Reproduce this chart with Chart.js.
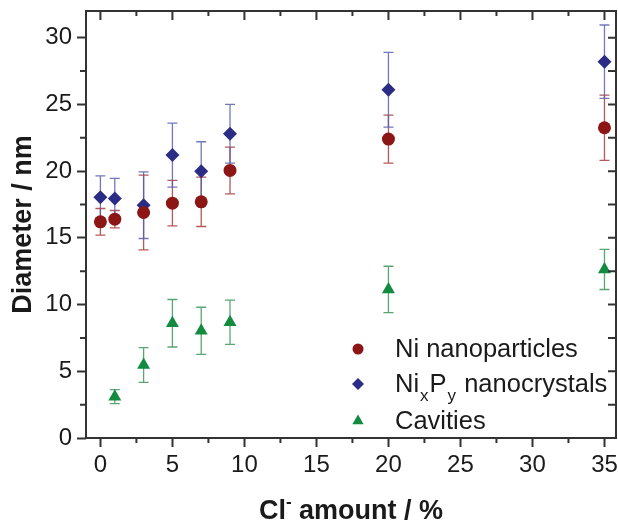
<!DOCTYPE html>
<html>
<head>
<meta charset="utf-8">
<script src="https://cdn.jsdelivr.net/npm/chart.js@4"></script>
<style>
    html, body { margin: 0; padding: 0; background: #ffffff; overflow: hidden; }
    #chart-box { width: 618px; height: 523px; }
    canvas { display: block; }
</style>
</head>
<body>
<div id="chart-box"><canvas id="chart"></canvas></div>
<script>
// DATA

const clAmount = [0, 1, 3, 5, 7, 9, 20, 35];
const cavityAmount = [1, 3, 5, 7, 9, 20, 35];

const niDiameter = [16.2, 16.4, 16.9, 17.6, 17.7, 20.05, 22.4, 23.25];
const niError = [1.0, 0.65, 2.8, 1.7, 1.85, 1.75, 1.8, 2.45];

const nixpyDiameter = [18.05, 17.95, 17.45, 21.2, 20.0, 22.8, 26.1, 28.2];
const nixpyError = [1.6, 1.5, 2.5, 2.4, 2.2, 2.2, 2.8, 2.75];

const cavityDiameter = [3.1, 5.47, 8.6, 8.03, 8.67, 11.13, 12.63];
const cavityError = [0.52, 1.3, 1.78, 1.77, 1.66, 1.74, 1.5];

// legend entries, split into [text, "sub"] parts for the subscripts
const legendLabels = [
    [["Ni nanoparticles", ""]],
    [["Ni", ""], ["x", "sub"], ["P", ""], ["y", "sub"], [" nanocrystals", ""]],
    [["Cavities", ""]],
];

// STYLE

const FONT = "'Liberation Sans', Arial, sans-serif";
const AXIS_COLOR = "#333333";
const TEXT_COLOR = "#1a1a1a";

const seriesStyle = [
    { color: "#8c1616", errColor: "rgba(170, 60, 60, 0.85)", shape: "circle", radius: 6.5, legendRadius: 5.5 },
    { color: "#2b2c86", errColor: "rgba(90, 95, 175, 0.85)", shape: "rectRot", radius: 7, legendRadius: 6 },
    { color: "#128a3f", errColor: "rgba(60, 150, 90, 0.85)", shape: "triangle", radius: 7.5, legendRadius: 6.5 },
];

function toPoints(xs, ys) {
    return xs.map((x, i) => ({ x: x, y: ys[i] }));
}

const errorSets = [niError, nixpyError, cavityError];

// PLUGINS

const errorBarPlugin = {
    id: "errorBars",
    beforeDatasetsDraw(chart) {
        const ctx = chart.ctx;
        const xScale = chart.scales.x;
        const yScale = chart.scales.y;
        ctx.save();
        chart.data.datasets.forEach((ds, dsIndex) => {
            const errs = errorSets[dsIndex];
            ctx.strokeStyle = seriesStyle[dsIndex].errColor;
            ctx.lineWidth = 1.3;
            ds.data.forEach((p, i) => {
                const px = xScale.getPixelForValue(p.x);
                const top = yScale.getPixelForValue(p.y + errs[i]);
                const bottom = yScale.getPixelForValue(p.y - errs[i]);
                ctx.beginPath();
                ctx.moveTo(px, top);
                ctx.lineTo(px, bottom);
                ctx.moveTo(px - 5, top);
                ctx.lineTo(px + 5, top);
                ctx.moveTo(px - 5, bottom);
                ctx.lineTo(px + 5, bottom);
                ctx.stroke();
            });
        });
        ctx.restore();
    }
};

function drawMarker(ctx, shape, x, y, r) {
    if (shape === "circle") {
        ctx.arc(x, y, r, 0, Math.PI * 2);
    } else if (shape === "rectRot") {
        ctx.moveTo(x, y - r);
        ctx.lineTo(x + r, y);
        ctx.lineTo(x, y + r);
        ctx.lineTo(x - r, y);
        ctx.closePath();
    } else {
        ctx.moveTo(x, y - r);
        ctx.lineTo(x + r * 0.866, y + r * 0.5);
        ctx.lineTo(x - r * 0.866, y + r * 0.5);
        ctx.closePath();
    }
}

const framePlugin = {
    id: "frame",
    afterDraw(chart) {
        const ctx = chart.ctx;
        const area = chart.chartArea;
        const xScale = chart.scales.x;
        const yScale = chart.scales.y;
        ctx.save();
        ctx.strokeStyle = AXIS_COLOR;
        ctx.lineWidth = 2;

        // minor + mirrored ticks
        ctx.beginPath();
        for (let v = 0; v <= 35; v += 2.5) {
            const px = xScale.getPixelForValue(v);
            const major = v % 5 === 0;
            const len = major ? 9 : 5;
            if (!major) {
                ctx.moveTo(px, area.bottom);
                ctx.lineTo(px, area.bottom + len);
            }
            ctx.moveTo(px, area.top);
            ctx.lineTo(px, area.top + len);
        }
        for (let v = 0; v <= 30; v += 2.5) {
            const py = yScale.getPixelForValue(v);
            const major = v % 5 === 0;
            const len = major ? 9 : 6;
            if (!major) {
                ctx.moveTo(area.left, py);
                ctx.lineTo(area.left - len, py);
            }
            ctx.moveTo(area.right, py);
            ctx.lineTo(area.right - 8, py);
        }
        ctx.stroke();

        ctx.strokeRect(area.left, area.top, area.right - area.left, area.bottom - area.top);

        // x axis title with superscript minus
        ctx.fillStyle = TEXT_COLOR;
        ctx.textBaseline = "alphabetic";
        const big = "bold 27px " + FONT;
        const small = "bold 17px " + FONT;
        ctx.font = big;
        const w1 = ctx.measureText("Cl").width;
        const w3 = ctx.measureText(" amount / %").width;
        ctx.font = small;
        const w2 = ctx.measureText("-").width;
        const total = w1 + w2 + w3;
        let x = (area.left + area.right) / 2 - total / 2;
        const baseY = 519;
        ctx.textAlign = "left";
        ctx.font = big;
        ctx.fillText("Cl", x, baseY);
        x += w1;
        ctx.font = small;
        ctx.fillText("-", x, baseY - 12);
        x += w2;
        ctx.font = big;
        ctx.fillText(" amount / %", x, baseY);

        // legend
        const legendX = 358;
        const textX = 395;
        const rowBase = [357, 392, 429];
        legendLabels.forEach((parts, i) => {
            const st = seriesStyle[i];
            ctx.fillStyle = st.color;
            ctx.beginPath();
            drawMarker(ctx, st.shape, legendX, rowBase[i] - 8, st.legendRadius);
            ctx.fill();

            ctx.fillStyle = TEXT_COLOR;
            let tx = textX;
            parts.forEach(([text, kind]) => {
                if (kind === "sub") {
                    ctx.font = "17px " + FONT;
                    ctx.fillText(text, tx + 1, rowBase[i] + 9);
                    tx += ctx.measureText(text).width + 2;
                } else {
                    ctx.font = "25.5px " + FONT;
                    ctx.fillText(text, tx, rowBase[i]);
                    tx += ctx.measureText(text).width;
                }
            });
        });
        ctx.restore();
    }
};

function noEdgePadding(scale) {
    scale.paddingTop = 0;
    scale.paddingBottom = 0;
    scale.paddingLeft = 0;
    scale.paddingRight = 0;
}

// CHART

const chart = new Chart(document.getElementById("chart"), {
    type: "scatter",
    data: {
        datasets: [
            { label: "Ni nanoparticles", data: toPoints(clAmount, niDiameter) },
            { label: "NixPy nanocrystals", data: toPoints(clAmount, nixpyDiameter) },
            { label: "Cavities", data: toPoints(cavityAmount, cavityDiameter) },
        ].map((ds, i) => Object.assign(ds, {
            pointStyle: seriesStyle[i].shape,
            pointRadius: seriesStyle[i].radius,
            pointHoverRadius: seriesStyle[i].radius,
            backgroundColor: seriesStyle[i].color,
            borderColor: seriesStyle[i].color,
            borderWidth: 0,
        }))
    },
    options: {
        responsive: true,
        maintainAspectRatio: false,
        animation: false,
        events: [],
        layout: {
            autoPadding: false, // don't add room for point radius
            padding: { top: 11, right: 2, left: 0, bottom: 0 },
        },
        scales: {
            x: {
                type: "linear",
                min: -1,
                max: 35.8,
                afterFit: scale => { scale.height = 85; noEdgePadding(scale); },
                grid: {
                    display: true,
                    drawOnChartArea: false,
                    drawTicks: true,
                    tickLength: 9,
                    tickWidth: 2,
                    tickColor: AXIS_COLOR,
                },
                border: { display: false },
                ticks: {
                    stepSize: 5,
                    includeBounds: false,
                    padding: 4,
                    color: TEXT_COLOR,
                    font: { family: FONT, size: 24 },
                    maxRotation: 0,
                },
            },
            y: {
                min: 0,
                max: 32,
                afterFit: scale => { scale.width = 86; noEdgePadding(scale); },
                grid: {
                    display: true,
                    drawOnChartArea: false,
                    drawTicks: true,
                    tickLength: 9,
                    tickWidth: 2,
                    tickColor: AXIS_COLOR,
                },
                border: { display: false },
                ticks: {
                    stepSize: 5,
                    includeBounds: false,
                    padding: 5,
                    color: TEXT_COLOR,
                    font: { family: FONT, size: 24 },
                },
                title: {
                    display: true,
                    text: "Diameter / nm",
                    color: TEXT_COLOR,
                    font: { family: FONT, size: 27, weight: "bold" },
                    padding: { top: 7, bottom: 0 },
                },
            },
        },
        plugins: {
            legend: { display: false },
            tooltip: { enabled: false },
        },
    },
    plugins: [errorBarPlugin, framePlugin],
});
</script>
</body>
</html>
